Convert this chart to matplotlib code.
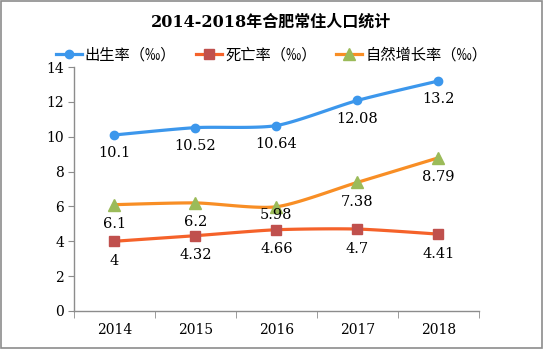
import numpy as np
import matplotlib
matplotlib.use("Agg")
import matplotlib.pyplot as plt
from matplotlib.patches import Rectangle

years = ["2014", "2015", "2016", "2017", "2018"]
birth = [10.1, 10.52, 10.64, 12.08, 13.2]
death = [4, 4.32, 4.66, 4.7, 4.41]
growth = [6.1, 6.2, 5.98, 7.38, 8.79]
birth_labels = ["10.1", "10.52", "10.64", "12.08", "13.2"]
death_labels = ["4", "4.32", "4.66", "4.7", "4.41"]
growth_labels = ["6.1", "6.2", "5.98", "7.38", "8.79"]

NUM_FONT = ["DejaVu Serif", "Noto Sans CJK SC"]
CJK_FONT = ["Noto Sans CJK SC", "DejaVu Sans"]


def smooth(xs, ys, k=0.12, n=30):
    # Excel-like smoothed line: Catmull-Rom style Bezier segments
    xs = np.asarray(xs, float)
    ys = np.asarray(ys, float)
    px = np.concatenate([[xs[0]], xs, [xs[-1]]])
    py = np.concatenate([[ys[0]], ys, [ys[-1]]])
    outx, outy = [], []
    t = np.linspace(0, 1, n)
    for i in range(1, len(xs)):
        p0 = np.array([px[i], py[i]])
        p3 = np.array([px[i + 1], py[i + 1]])
        c1 = p0 + (np.array([px[i + 1], py[i + 1]]) - np.array([px[i - 1], py[i - 1]])) * k
        c2 = p3 - (np.array([px[i + 2], py[i + 2]]) - np.array([px[i], py[i]])) * k
        b = ((1 - t) ** 3)[:, None] * p0 + (3 * (1 - t) ** 2 * t)[:, None] * c1 \
            + (3 * (1 - t) * t ** 2)[:, None] * c2 + (t ** 3)[:, None] * p3
        outx.extend(b[:, 0])
        outy.extend(b[:, 1])
    return outx, outy


fig = plt.figure(figsize=(5.43, 3.49), dpi=100)
fig.patches.append(Rectangle((0.001, 0.002), 0.997, 0.995, transform=fig.transFigure,
                             fill=False, edgecolor="#8c8c8c", linewidth=1.2))
ax = fig.add_axes([0.136, 0.109, 0.746, 0.699])

x = np.arange(len(years))
# label offsets in points (below each marker)
birth_off = [-13, -13, -13, -13, -13]
death_off = [-14, -14, -14, -14, -14]
growth_off = [-14, -14, -6, -14, -14]
series = [
    (birth, birth_labels, birth_off, "#3C97EC", "#3C97EC", "o", 6, "出生率（‰）"),
    (death, death_labels, death_off, "#F5622A", "#C0504D", "s", 7.5, "死亡率（‰）"),
    (growth, growth_labels, growth_off, "#F88E25", "#9BBB59", "^", 8, "自然增长率（‰）"),
]
handles = []
for vals, labs, offs, lc, mc, mk, ms, name in series:
    sx, sy = smooth(x, vals)
    ax.plot(sx, sy, color=lc, linewidth=2.3, solid_capstyle="round", zorder=2)
    ax.plot(x, vals, linestyle="none", marker=mk, markersize=ms,
            markerfacecolor=mc, markeredgecolor=mc, zorder=3)
    h, = ax.plot([], [], color=lc, linewidth=2.3, marker=mk, markersize=ms,
                 markerfacecolor=mc, markeredgecolor=mc)
    handles.append((h, name))
    for xi, v, s, o in zip(x, vals, labs, offs):
        ax.annotate(s, (xi, v), xytext=(0, o), textcoords="offset points",
                    ha="center", va="center", fontsize=10.5, family=NUM_FONT)

ax.set_xlim(-0.5, len(years) - 0.5)
ax.set_ylim(0, 14)
ax.set_yticks(range(0, 15, 2))
ax.set_yticklabels([str(v) for v in range(0, 15, 2)], family=NUM_FONT, fontsize=10)
ax.set_xticks(x)
ax.set_xticklabels(years, family=NUM_FONT, fontsize=10)
ax.set_xticks(np.arange(-0.5, len(years), 1), minor=True)
ax.tick_params(axis="x", which="major", length=0, pad=9)
ax.tick_params(axis="x", which="minor", length=5, color="#8c8c8c")
ax.tick_params(axis="y", length=4, color="#8c8c8c", pad=3)
for side in ["top", "right"]:
    ax.spines[side].set_visible(False)
for side in ["left", "bottom"]:
    ax.spines[side].set_color("#8c8c8c")
    ax.spines[side].set_linewidth(1)

fig.text(0.5, 0.937, "2014-2018年合肥常住人口统计", ha="center", va="center",
         fontsize=11.5, fontweight="bold", family=NUM_FONT)
fig.legend([h for h, _ in handles], [n for _, n in handles], loc="center",
           bbox_to_anchor=(0.5, 0.843), ncol=3, frameon=False,
           prop={"family": CJK_FONT, "size": 11}, handlelength=1.7,
           columnspacing=1.3, handletextpad=0.2)

fig.savefig("out.png", dpi=100)
